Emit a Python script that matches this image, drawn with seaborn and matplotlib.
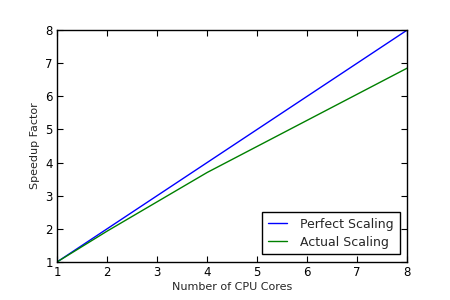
import pandas as pd
import seaborn as sns
import matplotlib.pyplot as plt

sns.set_style("white")
plt.rcParams['font.family'] = ['DejaVu Sans']

cores = [1, 2, 4, 8]
perfect = [1, 2, 4, 8]
actual = [1, 1.93, 3.7, 6.85]

df = pd.DataFrame({
    "cores": cores * 2,
    "speedup": perfect + actual,
    "series": ["Perfect Scaling"] * 4 + ["Actual Scaling"] * 4,
})

fig = plt.figure(figsize=(4.5, 3), dpi=100)
ax = fig.add_axes([0.127, 0.127, 0.778, 0.773])
sns.lineplot(data=df, x="cores", y="speedup", hue="series",
             palette=["#0000ff", "#008000"], linewidth=1, ax=ax)

ax.set_xlim(1, 8)
ax.set_ylim(1, 8)
ax.set_xticks(range(1, 9))
ax.set_yticks(range(1, 9))
ax.tick_params(direction="in", length=4, width=0.8, top=True, right=True,
               bottom=True, left=True, labelsize=8.5, colors="black", pad=3)
for s in ax.spines.values():
    s.set_color("black")
    s.set_linewidth(1)
ax.set_xlabel("Number of CPU Cores", fontsize=8, labelpad=2)
ax.set_ylabel("Speedup Factor", fontsize=8, labelpad=4)
leg = ax.legend(loc="lower right", fontsize=9, fancybox=False,
                framealpha=1, borderaxespad=0.6, handlelength=1.5,
                handletextpad=1.1, borderpad=0.45, labelspacing=0.4)
leg.get_frame().set_edgecolor("black")
leg.get_frame().set_linewidth(1)

fig.savefig("out.png", dpi=100, facecolor="white")
